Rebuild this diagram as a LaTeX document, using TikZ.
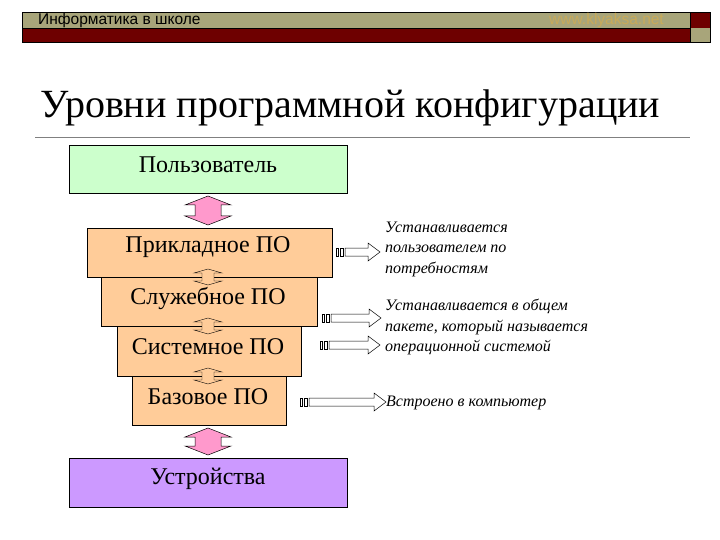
\documentclass[tikz,border=0pt]{standalone}
\usepackage{fontspec}
\setmainfont{Liberation Serif}
\newfontfamily\hdr{Liberation Sans}
\begin{document}
\begin{tikzpicture}[x=1pt,y=-1pt,
 lvl/.style={draw=black,line width=0.6pt,anchor=north west,inner sep=0pt},
 btxt/.style={font=\fontsize{24}{26}\selectfont,anchor=center},
 note/.style={font=\itshape\fontsize{16}{20.5}\selectfont,align=left,anchor=west,inner sep=0pt}]
\useasboundingbox (0,0) rectangle (720,540);
\fill[white] (0,0) rectangle (720,540);
% header
\fill[fill={rgb,255:red,168;green,165;blue,122}] (22,12) rectangle (690,28);
\fill[fill={rgb,255:red,110;green,0;blue,0}] (22,28) rectangle (690,42);
\fill[fill={rgb,255:red,110;green,0;blue,0}] (690,12) rectangle (710,28);
\fill[fill={rgb,255:red,168;green,165;blue,122}] (690,28) rectangle (710,42);
\draw[line width=0.6pt] (22,12) rectangle (690,42) (690,12) rectangle (710,42) (22,28)--(690,28);
\node[font=\hdr\fontsize{15.5}{16}\selectfont,anchor=west,inner sep=0pt] (h1) at (38,20) {Информатика в школе};
\node[font=\hdr\fontsize{15.5}{16}\selectfont,anchor=east,inner sep=0pt,text={rgb,255:red,200;green,170;blue,90}] (h2) at (664,20) {www.klyaksa.net};
% title
\node[font=\fontsize{40}{44}\selectfont,anchor=base west,inner sep=0pt] (t) at (40,118) {Уровни программной конфигурации};
\draw[gray,line width=0.6pt] (35,137)--(690,137);
% boxes
\draw[lvl,fill={rgb,255:red,204;green,255;blue,204}] (69,145) rectangle (347,193);
\node[btxt] (user) at (208,165) {Пользователь};
\draw[lvl,fill={rgb,255:red,255;green,204;blue,153}] (87,228) rectangle (332,277);
\node[btxt] (app) at (208,247) {Прикладное ПО};
\draw[lvl,fill={rgb,255:red,255;green,204;blue,153}] (101,277) rectangle (317,326);
\node[btxt] (srv) at (208,298) {Служебное ПО};
\draw[lvl,fill={rgb,255:red,255;green,204;blue,153}] (117,326) rectangle (301,376);
\node[btxt] (sys) at (208,347) {Системное ПО};
\draw[lvl,fill={rgb,255:red,255;green,204;blue,153}] (132,376) rectangle (286,425);
\node[btxt] (base) at (208,397) {Базовое ПО};
\draw[lvl,fill={rgb,255:red,204;green,153;blue,255}] (69,458) rectangle (347,507);
\node[btxt] (dev) at (208,479) {Устройства};
% pink double arrows
\foreach \a/\b in {196/225,428/455}{
 \draw[fill={rgb,255:red,255;green,153;blue,204},line width=0.5pt]
  (208,\a)--(231,\a+9)--(221,\a+9)--(221,\b-9)--(231,\b-9)--(208,\b)--(185,\b-9)--(195,\b-9)--(195,\a+9)--(185,\a+9)--cycle;
}
% small double arrows
\foreach \m in {277,326,376}{
 \draw[fill={rgb,255:red,255;green,204;blue,153},line width=0.4pt]
  (208,\m-8)--(222,\m-4)--(214,\m-4)--(214,\m+4)--(222,\m+4)--(208,\m+8)--(194,\m+4)--(202,\m+4)--(202,\m-4)--(194,\m-4)--cycle;
}
% striped block arrows
\foreach \x/\y/\e in {336/252/380, 322/318/381, 320/345/380, 300/402/386}{
 \draw[fill=white,line width=0.5pt] (\x,\y-4) rectangle (\x+2,\y+4);
 \draw[fill=white,line width=0.5pt] (\x+4,\y-4) rectangle (\x+7,\y+4);
 \draw[fill=white,line width=0.5pt] (\x+9,\y-4) -- (\e-12,\y-4) -- (\e-12,\y-9) -- (\e,\y) -- (\e-12,\y+9) -- (\e-12,\y+4) -- (\x+9,\y+4) -- cycle;
}
\node[note] (n1) at (385,249) {Устанавливается\\пользователем по\\потребностям};
\node[note] (n2) at (385,327) {Устанавливается в общем\\пакете, который называется\\операционной системой};
\node[note] (n3) at (386,403) {Встроено в компьютер};
\end{tikzpicture}
\end{document}
